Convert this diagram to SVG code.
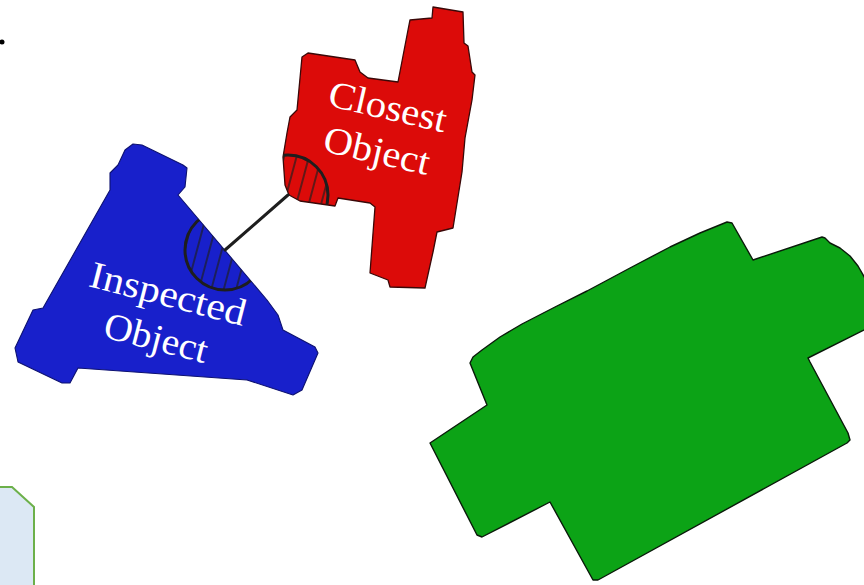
<svg xmlns="http://www.w3.org/2000/svg" width="864" height="585" viewBox="0 0 864 585">
  <style>
    .obj { stroke-linejoin: round; }
    .red { fill: #dc0b09; stroke: #3a0808; stroke-width: 1.3; }
    .blue { fill: #1820cb; stroke: #0d1170; stroke-width: 1.1; }
    .green { fill: #0ca316; stroke: #0a1a0a; stroke-width: 1.4; }
    .label { font-family: "Liberation Serif", "DejaVu Serif", serif; font-size: 38px; fill: #ffffff; }
    .arc { fill: none; stroke: #1e1e1e; stroke-width: 3; }
    .hatch { fill: url(#hatch); }
    .link { stroke: #1e1e1e; stroke-width: 3; stroke-linecap: round; }
  </style>
  <defs>
    <pattern id="hatch" patternUnits="userSpaceOnUse" width="12" height="12" patternTransform="rotate(15)">
      <line x1="3" y1="-1" x2="3" y2="13" stroke="#1e1e1e" stroke-width="1.3"/>
    </pattern>
    <polygon id="redShape" points="433,7 463,12 464,43 468,46 472,72 475,75 472,100 465,138 462,172 453,228 437,232 433,252 425,288 390,287 388,280 370,273 375,207 370,203 338,198 335,206 300,201 289,195 285,185 283,157 287,133 290,117 297,110 302,57 308,53 355,60 360,72 368,78 398,82 408,30 410,20 432,18"/>
    <polygon id="blueShape" points="133,144 142,145 183,165 187,168 185,187 178,195 267,300 278,315 283,330 315,347 318,353 302,390 293,395 247,380 78,368 70,383 62,383 18,362 15,348 33,310 43,308 110,190 110,173 118,165 125,150"/>
    <clipPath id="redClip"><use href="#redShape"/></clipPath>
    <clipPath id="blueClip"><use href="#blueShape"/></clipPath>
    <clipPath id="redDisk"><circle cx="288" cy="195" r="40"/></clipPath>
    <clipPath id="blueDisk"><circle cx="225" cy="250" r="40"/></clipPath>
  </defs>

  <!-- small mark near the top-left corner -->
  <circle cx="2" cy="42" r="2.5" fill="#000"/>

  <!-- corner of a neighbouring panel -->
  <polygon points="-2,487 12,487 34,507 34,590 -2,590" fill="#dce8f4" stroke="#6cb04a" stroke-width="2"/>

  <g id="closest-object" class="obj">
    <use href="#redShape" class="red"/>
    <g clip-path="url(#redClip)">
      <g clip-path="url(#redDisk)">
        <rect x="240" y="150" width="100" height="90" class="hatch"/>
      </g>
      <circle cx="288" cy="195" r="40" class="arc"/>
    </g>
    <text class="label" transform="translate(385,119) rotate(13)" text-anchor="middle" textLength="120" lengthAdjust="spacingAndGlyphs">Closest</text>
    <text class="label" transform="translate(374,163) rotate(13)" text-anchor="middle" textLength="108" lengthAdjust="spacingAndGlyphs">Object</text>
  </g>

  <g id="inspected-object" class="obj">
    <use href="#blueShape" class="blue"/>
    <g clip-path="url(#blueClip)">
      <g clip-path="url(#blueDisk)">
        <rect x="180" y="205" width="100" height="90" class="hatch"/>
      </g>
      <circle cx="225" cy="250" r="40" class="arc"/>
    </g>
    <text class="label" transform="translate(165,306) rotate(14.5)" text-anchor="middle" textLength="160" lengthAdjust="spacingAndGlyphs">Inspected</text>
    <text class="label" transform="translate(153,350) rotate(14.5)" text-anchor="middle" textLength="106" lengthAdjust="spacingAndGlyphs">Object</text>
  </g>

  <g id="other-object" class="obj">
    <polygon class="green" points="727,222 732,223 753,260 822,237 825,238 830,243 840,248 850,256 858,266 866,280 870,327 808,358 810,362 848,433 850,440 847,443 598,580 593,580 550,502 482,537 477,535 430,443 487,405 470,363 473,357 482,350 500,337 522,324 555,307 587,291 630,268 670,247 700,233"/>
  </g>

  <g id="connectors">
    <line class="link" x1="225" y1="250" x2="288" y2="195"/>
  </g>
</svg>
